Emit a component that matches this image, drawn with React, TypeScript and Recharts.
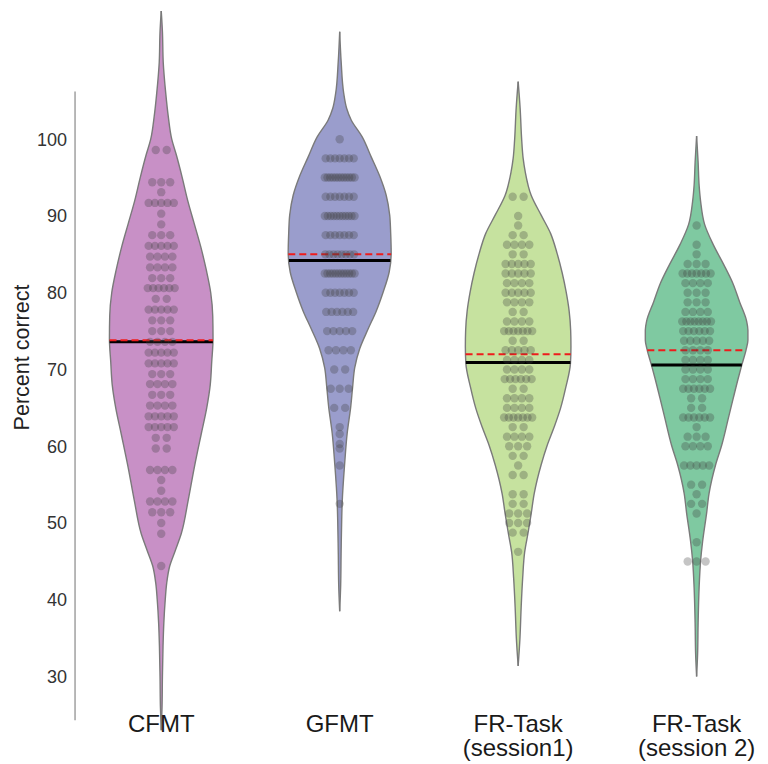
import { ComposedChart, Area, Scatter, XAxis, YAxis, ReferenceLine } from 'recharts'

const FONT = '"Liberation Sans", Arial, sans-serif'

const CATEGORIES = [['CFMT'], ['GFMT'], ['FR-Task', '(session1)'], ['FR-Task', '(session 2)']]
const COLORS = ['#c890c6', '#9a9dcc', '#c6e29f', '#7fc9a1']
const Y_TICKS = [30, 40, 50, 60, 70, 80, 90, 100]

// violin outlines: score level and kde half-width (as drawn, px)
const cfmtLevels = [116.7, 114, 110, 106, 103, 100, 98, 95, 92, 89, 86, 83, 80, 77, 74, 71, 68, 65, 61.6, 57.2, 53, 48.6, 46.4, 44.4, 42.2, 40, 37, 34, 30, 26, 23]
const cfmtKde = [0, 1.2, 2, 4.5, 7, 10.5, 15, 21, 26.5, 33, 39.5, 45, 49.5, 51.5, 51.8, 50.5, 49, 45.5, 40, 33, 27, 20, 14, 8.5, 5.5, 4, 2.6, 1.8, 1.2, 0.8, 0]
const gfmtLevels = [114, 110, 106, 104, 102.5, 100.3, 97.7, 95.2, 92.7, 90.1, 87.7, 85.1, 82.7, 80.1, 77.6, 75.3, 72.7, 70.2, 67.8, 65.1, 61.7, 57.8, 52.7, 50.4, 46, 42, 38.5]
const gfmtKde = [0, 1.5, 4, 7, 11.5, 22.5, 31.5, 40, 46.5, 50, 51, 51.5, 49.5, 43.5, 36.5, 28.5, 20, 15, 13, 11, 7.5, 5, 2.5, 2, 1.4, 1, 0]
const fr1Levels = [107.5, 104, 100, 97.5, 95.8, 92.7, 90.1, 87.7, 85.1, 82.6, 80.1, 77.6, 75.1, 73, 70.8, 67.6, 65, 62.5, 60.1, 57.6, 53.8, 51.2, 48.8, 46.2, 42.8, 39, 35, 31.4]
const fr1Kde = [0, 2, 3.5, 5, 7, 13, 23, 32.5, 39, 44, 48, 51, 52.5, 52.8, 52.3, 47.5, 42.5, 36, 29, 23, 16, 13, 10, 6.5, 4.5, 3, 1.8, 0]
const fr2Levels = [100.4, 97, 94, 91.9, 88.9, 86.3, 83.7, 81.3, 78.8, 76.3, 75.1, 73.8, 72.6, 70.5, 68.8, 66.3, 63.8, 60.1, 57.6, 53.9, 51.3, 47.6, 45.1, 41.6, 37, 33, 30]
const fr2Kde = [0, 1.5, 2.5, 4, 8, 16.5, 27, 36, 43, 50, 51.3, 51.3, 49.5, 45, 41.5, 36.7, 32, 25, 19, 12.5, 10, 6, 4, 2.5, 1.5, 1, 0]

// swarm: score and number of participants at that score
const cfmtScores = [98.6, 94.4, 93.1, 91.7, 90.3, 88.9, 87.5, 86.1, 84.7, 83.3, 81.9, 80.6, 79.2, 77.8, 76.4, 75, 73.6, 72.2, 70.8, 69.4, 68.1, 66.7, 65.3, 63.9, 62.5, 61.1, 59.7, 56.9, 55.6, 54.2, 52.8, 51.4, 50, 48.6, 44.4]
const cfmtCounts = [2, 3, 1, 5, 1, 1, 3, 5, 4, 4, 3, 6, 2, 5, 3, 3, 4, 5, 5, 3, 4, 3, 4, 5, 5, 2, 2, 4, 1, 1, 4, 3, 1, 1, 1]
const gfmtScores = [100, 97.5, 95, 92.5, 90, 87.5, 85, 82.5, 80, 77.5, 75, 72.5, 70, 67.5, 65, 62.5, 61.6, 60.3, 59.7, 57.5, 52.5]
const gfmtCounts = [1, 7, 12, 7, 11, 7, 8, 12, 7, 6, 5, 4, 2, 3, 2, 1, 1, 1, 1, 1, 1]
const fr1Scores = [92.5, 90, 88.75, 87.5, 86.25, 85, 83.75, 82.5, 81.25, 80, 78.75, 77.5, 76.25, 75, 73.75, 72.5, 71.25, 70, 68.75, 67.5, 66.25, 65, 63.75, 62.5, 61.25, 60, 58.75, 57.5, 56.25, 53.75, 52.5, 51.25, 50, 48.75, 46.25]
const fr1Counts = [2, 1, 1, 2, 4, 2, 5, 5, 4, 5, 4, 2, 4, 7, 2, 5, 4, 4, 6, 2, 4, 4, 7, 2, 4, 3, 2, 1, 2, 2, 2, 3, 3, 2, 1]
const fr2Scores = [88.75, 86.25, 85, 83.75, 82.5, 81.25, 80, 78.75, 77.5, 76.25, 75, 73.75, 72.5, 71.25, 70, 68.75, 67.5, 66.25, 65, 63.75, 62.5, 61.25, 60, 57.5, 55, 53.75, 52.5, 51.25, 47.5, 45]
const fr2Counts = [1, 1, 1, 3, 7, 4, 3, 3, 4, 8, 6, 5, 4, 4, 4, 4, 6, 2, 2, 6, 1, 3, 4, 5, 2, 1, 2, 1, 1, 3]

const medians = [73.6, 84.2, 70.9, 70.6]
const means = [73.8, 85.0, 72.0, 72.5]

const X_DOMAIN: [number, number] = [-0.5, 3.4]
const PLOT_WIDTH = 696
const UNIT = (X_DOMAIN[1] - X_DOMAIN[0]) / PLOT_WIDTH // x units per drawn px

const violins = [
  { levels: cfmtLevels, kde: cfmtKde, scores: cfmtScores, counts: cfmtCounts },
  { levels: gfmtLevels, kde: gfmtKde, scores: gfmtScores, counts: gfmtCounts },
  { levels: fr1Levels, kde: fr1Kde, scores: fr1Scores, counts: fr1Counts },
  { levels: fr2Levels, kde: fr2Kde, scores: fr2Scores, counts: fr2Counts },
]

function outline(i: number) {
  const v = violins[i]
  return v.levels.map((y, j) => ({ y, range: [i - v.kde[j] * UNIT, i + v.kde[j] * UNIT] }))
}

// beeswarm rows: dots squeeze together as a row gets fuller
function swarm(i: number) {
  const v = violins[i]
  const pts: { x: number; y: number }[] = []
  v.scores.forEach((s, j) => {
    const n = v.counts[j]
    const span = n > 1 ? 30 * (1 - Math.exp(-(n - 1) / 2.2)) : 0
    for (let k = 0; k < n; k++) {
      const off = n > 1 ? (k / (n - 1) - 0.5) * span : 0
      pts.push({ x: i + off * UNIT, y: s })
    }
  })
  return pts
}

function halfWidthAt(i: number, y: number) {
  const { levels, kde } = violins[i]
  for (let j = 0; j < levels.length - 1; j++) {
    const a = levels[j], b = levels[j + 1]
    if ((y <= a && y >= b) || (y >= a && y <= b)) {
      const t = (y - a) / (b - a)
      return (kde[j] + t * (kde[j + 1] - kde[j])) * UNIT
    }
  }
  return 0
}

function XTick({ x, y, payload }: any) {
  const lines = CATEGORIES[payload.value] ?? []
  return (
    <text x={x} y={y} textAnchor="middle" fontSize={24} fill="#1a1a1a" fontFamily={FONT}>
      {lines.map((l, k) => (
        <tspan key={k} x={x} dy={k === 0 ? -6.5 : 24.5}>{l}</tspan>
      ))}
    </text>
  )
}

const Dot = (props: any) => (
  <circle cx={props.cx} cy={props.cy} r={4.2} fill="#3f3f3f" fillOpacity={0.3} />
)

export default function App() {
  return (
    <div style={{ position: 'absolute', left: 0, top: 0, width: 768, height: 764, background: '#fff' }}>
      <ComposedChart width={768} height={764} layout="vertical" margin={{ top: 1, right: 0, bottom: 0, left: 0 }}>
        <XAxis type="number" domain={X_DOMAIN} ticks={[0, 1, 2, 3]} allowDataOverflow interval={0}
               axisLine={false} tickLine={false} tickSize={0} tickMargin={0} height={26} tick={<XTick />} />
        <YAxis type="number" dataKey="y" domain={[22, 118]} ticks={Y_TICKS} allowDataOverflow interval={0} reversed
               axisLine={false} tickLine={false} tickSize={0} tickMargin={5} width={72}
               tick={{ fontSize: 18, fill: '#333', fontFamily: FONT }}
               label={{
                 content: ({ viewBox }: any) => (
                   <text x={viewBox.x + 22} y={viewBox.y + viewBox.height / 2 - 12} textAnchor="middle"
                         dominantBaseline="central" fontSize={21.5} fill="#222" fontFamily={FONT}
                         transform={`rotate(-90, ${viewBox.x + 22}, ${viewBox.y + viewBox.height / 2 - 12})`}>
                     Percent correct
                   </text>
                 ),
               }} />
        <ReferenceLine segment={[{ x: -0.483, y: 24.3 }, { x: -0.483, y: 106.2 }]} stroke="#888" strokeWidth={1.2} />
        {violins.map((_, i) => (
          <Area key={`v${i}`} data={outline(i)} dataKey="range" type="monotone" fill={COLORS[i]} fillOpacity={1}
                stroke="#7a7a7a" strokeWidth={1.4} dot={false} activeDot={false} isAnimationActive={false} />
        ))}
        {violins.map((_, i) => (
          <Scatter key={`s${i}`} data={swarm(i)} dataKey="x" shape={<Dot />} isAnimationActive={false} />
        ))}
        {medians.map((m, i) => (
          <ReferenceLine key={`m${i}`} segment={[{ x: i - halfWidthAt(i, m), y: m }, { x: i + halfWidthAt(i, m), y: m }]}
                         stroke="#000" strokeWidth={3} />
        ))}
        {means.map((m, i) => (
          <ReferenceLine key={`a${i}`} segment={[{ x: i - halfWidthAt(i, m), y: m }, { x: i + halfWidthAt(i, m), y: m }]}
                         stroke="#ee1c1c" strokeWidth={2} strokeDasharray="7 4" />
        ))}
      </ComposedChart>
    </div>
  )
}
